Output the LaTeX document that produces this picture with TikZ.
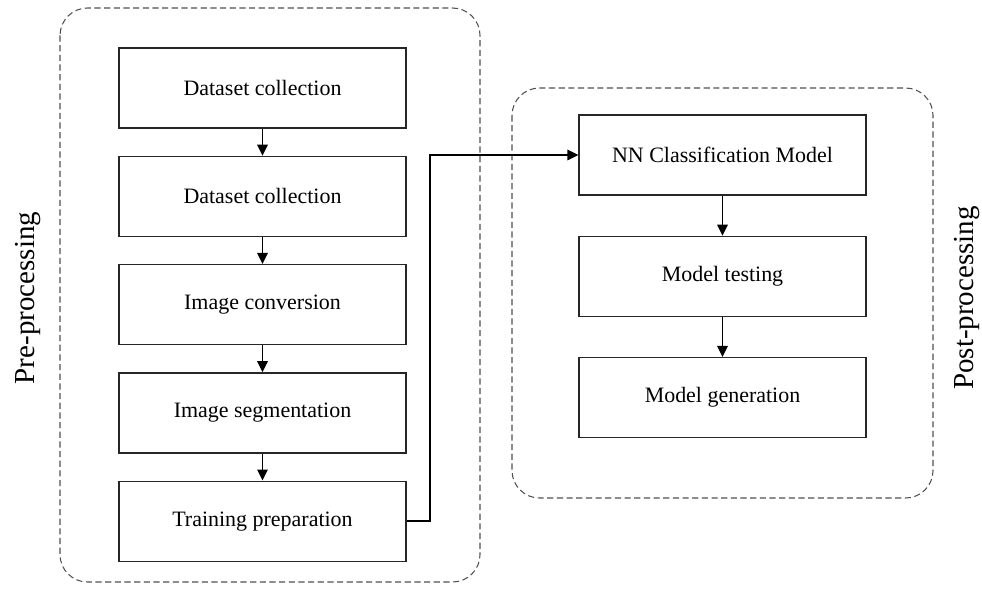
\documentclass[tikz,border=0pt]{standalone}
\usepackage{fontspec}
\setmainfont{Liberation Serif}
\usepackage{xcolor}
\usetikzlibrary{arrows.meta, positioning}
\definecolor{groupgray}{RGB}{80, 80, 80}

\tikzset{
    stepbox/.style={draw=black!85, line width=0.75pt, minimum width=5.74cm, minimum height=1.6cm, inner sep=0pt, font=\fontsize{12.5}{14}\selectfont},
    group/.style={draw=groupgray, dash pattern=on 3.5pt off 2pt, line width=0.6pt, rounded corners=0.55cm},
    flow/.style={-{Triangle[length=2.2mm, width=2.1mm]}, line width=0.9pt},
    sidelabel/.style={rotate=90, font=\fontsize{16.5}{19}\selectfont}
}

\begin{document}
\begin{tikzpicture}[x=0.02cm, y=-0.02cm]
    \useasboundingbox (0,0) rectangle (982,588);

    % groups
    \draw[group] (60,8) rectangle (480,582);
    \draw[group] (512,88) rectangle (933,498);

    % pre-processing
    \node[stepbox] (collect1) at (262.5,88) {Dataset collection};
    \node[stepbox, below=0.54cm of collect1] (collect2) {Dataset collection};
    \node[stepbox, below=0.54cm of collect2] (convert) {Image conversion};
    \node[stepbox, below=0.54cm of convert] (segment) {Image segmentation};
    \node[stepbox, below=0.54cm of segment] (prepare) {Training preparation};

    % post-processing
    \node[stepbox] (classify) at (722.5,155) {NN Classification Model};
    \node[stepbox, below=0.8cm of classify] (testing) {Model testing};
    \node[stepbox, below=0.8cm of testing] (generate) {Model generation};

    \node[sidelabel] (prelabel) at (28,298) {Pre-processing};
    \node[sidelabel] (postlabel) at (967,298) {Post-processing};

    \draw[flow] (collect1) -- (collect2);
    \draw[flow] (collect2) -- (convert);
    \draw[flow] (convert) -- (segment);
    \draw[flow] (segment) -- (prepare);
    \draw[flow] (prepare.east) -| (430,155) -- (classify.west);
    \draw[flow] (classify) -- (testing);
    \draw[flow] (testing) -- (generate);
\end{tikzpicture}
\end{document}
